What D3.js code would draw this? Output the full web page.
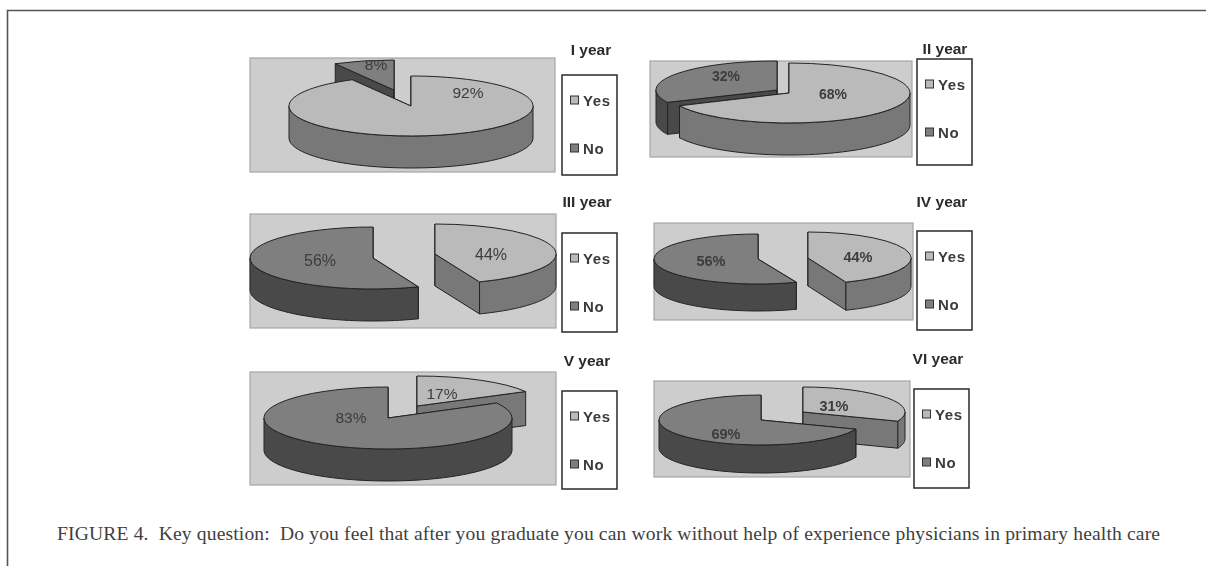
<!DOCTYPE html>
<html>
<head>
<meta charset="utf-8">
<script src="https://cdn.jsdelivr.net/npm/d3@7/dist/d3.min.js"></script>
<style>
html,body{margin:0;padding:0;background:#fff;}
svg{display:block;}
</style>
</head>
<body>
<svg id="chart" width="1206" height="566"></svg>
<script>
// ---- data ----
const categories = ["Yes", "No"];
const years = ["I year", "II year", "III year", "IV year", "V year", "VI year"];
const yesValues = [92, 68, 44, 44, 17, 31];
const noValues = [8, 32, 56, 56, 83, 69];
const captionText = "FIGURE 4.  Key question:  Do you feel that after you graduate you can work without help of experience physicians in primary health care";

// ---- layout (positions only, one entry per panel) ----
const panelRects = [[250,58,555,172],[650,61,912,157],[250,214,556,328],[654,223,913,320],[250,372,556,485],[654,381,910,477]];
const yesDiscs = [[411,106,122,30,32],[789,93,121,30,32],[435,254,121,30,32],[808,258,103,26,28],[417,406,124,30,34],[803,412,102,25,27]];
const noDiscs  = [[394,90,122,30,32],[777,90,121,29,32],[373,258,123,31,32],[758,259,104,25,27],[388,418,124,31,32],[761,420,102,25,28]];
const paintOrders = [[1,0],[1,0],[1,0],[1,0],[0,1],[0,1]];
const yesLabelPos = [[468,92],[833,94],[491,254],[858,257],[442,393],[834,406]];
const noLabelPos  = [[376,64],[726,76],[320,260],[711,261],[351,417],[726,434]];
const labelFonts = [[15.5,400],[14,700],[16,400],[14.5,700],[15.5,400],[14.5,700]];
const legendBoxes = [[562,75,617,175],[917,59,972,165],[562,233,617,332],[917,231,972,330],[562,391,617,489],[914,389,969,488]];
const titlePos = [[591,55],[945,54],[587,207],[942,207],[587,366],[938,364]];

// ---- styles ----
const panelFill = "#cdcdcd", panelStroke = "#a6a6a6";
const topFill = {Yes:"#bababa", No:"#7f7f7f"};
const wallFill = {Yes:"#787878", No:"#4a4a4a"};
const ink = "#242424", labelInk = "#3c3c3c";

const svg = d3.select("#chart");

// soft scan-like blur
const defs = svg.append("defs");
defs.append("filter").attr("id","soft").attr("x","-2%").attr("y","-2%").attr("width","104%").attr("height","104%")
  .append("feGaussianBlur").attr("stdDeviation",0.6);

// article frame: top and left rules only
svg.append("path").attr("d",d3.line()([[7.5,566],[7.5,10.5],[1206,10.5]]))
  .attr("fill","none").attr("stroke","#555").attr("stroke-width",1.6);

const chart = svg.append("g").attr("filter","url(#soft)");
const pie = d3.pie().sort(null).value(d => d.value);
const arcGen = d3.arc().innerRadius(0).outerRadius(1);
const line = d3.line();

function drawSlice(g, slice, disc) {
  const [cx,cy,rx,ry,depth] = disc;
  const cat = slice.data.cat;
  const pt = a => [cx + rx*Math.sin(a), cy - ry*Math.cos(a)];
  const down = p => [p[0], p[1] + depth];
  const a0 = slice.startAngle, a1 = slice.endAngle;
  const wallStyle = s => s.attr("fill",wallFill[cat]).attr("stroke",ink).attr("stroke-width",1).attr("stroke-linejoin","round");

  // radial cut faces
  [a0,a1].forEach(a => {
    const p = pt(a), c = [cx,cy];
    g.append("path").attr("d",line([c,p,down(p),down(c)])+"Z").call(wallStyle);
  });
  // outer rim, only the part that faces the viewer
  const r0 = Math.max(a0, Math.PI/2), r1 = Math.min(a1, 3*Math.PI/2);
  if (r1 > r0) {
    const rim = d3.scaleLinear().domain([0,1]).range([r0,r1]);
    const topEdge = d3.range(0,1.0001,1/48).map(t => pt(rim(t)));
    g.append("path").attr("d",line(topEdge.concat(topEdge.map(down).reverse()))+"Z").call(wallStyle);
  }
  // top surface
  g.append("path")
    .attr("d",arcGen({startAngle:a0,endAngle:a1}))
    .attr("transform",`translate(${cx},${cy}) scale(${rx},${ry})`)
    .attr("fill",topFill[cat]).attr("stroke",ink).attr("stroke-width",1)
    .attr("vector-effect","non-scaling-stroke");
}

years.forEach((year,i) => {
  const g = chart.append("g");
  const [x0,y0,x1,y1] = panelRects[i];
  g.append("rect").attr("x",x0).attr("y",y0).attr("width",x1-x0).attr("height",y1-y0)
    .attr("fill",panelFill).attr("stroke",panelStroke).attr("stroke-width",1.2);

  const slices = pie([{cat:categories[0],value:yesValues[i]},{cat:categories[1],value:noValues[i]}]);
  const discs = [yesDiscs[i],noDiscs[i]];
  paintOrders[i].forEach(k => drawSlice(g,slices[k],discs[k]));

  const [fs,fw] = labelFonts[i];
  [[yesLabelPos[i],yesValues[i]],[noLabelPos[i],noValues[i]]].forEach(([p,v]) => {
    g.append("text").attr("x",p[0]).attr("y",p[1]).attr("text-anchor","middle").attr("dominant-baseline","central")
      .attr("font-family","'Liberation Sans',Arial,sans-serif").attr("font-size",fs).attr("font-weight",fw)
      .attr("fill",labelInk).text(v+"%");
  });

  // legend
  const [bx0,by0,bx1,by1] = legendBoxes[i];
  g.append("rect").attr("x",bx0).attr("y",by0).attr("width",bx1-bx0).attr("height",by1-by0)
    .attr("fill","#fff").attr("stroke","#2a2a2a").attr("stroke-width",1.5);
  const legendY = d3.scalePoint().domain(categories).range([by0+25,by0+73]);
  categories.forEach(c => {
    const y = legendY(c);
    g.append("rect").attr("x",bx0+8.5).attr("y",y-4).attr("width",8).attr("height",8)
      .attr("fill",topFill[c]).attr("stroke","#333").attr("stroke-width",1);
    g.append("text").attr("x",bx0+21).attr("y",y).attr("dominant-baseline","central")
      .attr("font-family","'Liberation Sans',Arial,sans-serif").attr("font-size",15).attr("font-weight",700)
      .attr("letter-spacing",0.6).attr("fill","#3a3a3a").text(c);
  });

  // year title
  g.append("text").attr("x",titlePos[i][0]).attr("y",titlePos[i][1]).attr("text-anchor","middle")
    .attr("font-family","'Liberation Sans',Arial,sans-serif").attr("font-size",15.5).attr("font-weight",700)
    .attr("fill","#2a2a2a").text(year);
});

// caption
svg.append("text").attr("x",57).attr("y",540).attr("xml:space","preserve").style("white-space","pre")
  .attr("font-family","'Liberation Serif',serif").attr("font-size",19.6)
  .attr("textLength",1103).attr("lengthAdjust","spacing")
  .attr("fill","#3f3f3f").text(captionText);
</script>
</body>
</html>
